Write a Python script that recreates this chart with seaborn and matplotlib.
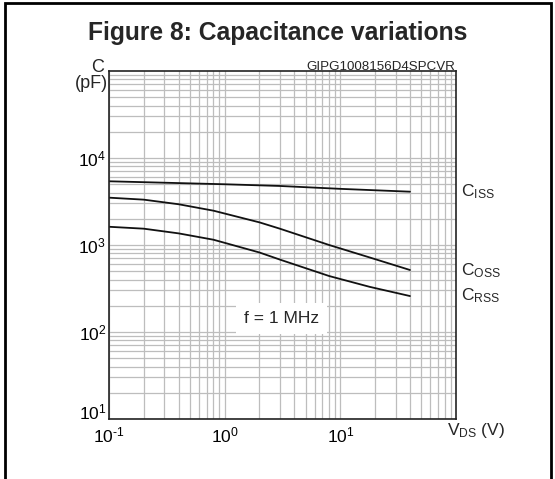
import matplotlib
matplotlib.use("Agg")
import matplotlib.pyplot as plt
import matplotlib.ticker as mticker
import matplotlib.transforms as mtrans
from matplotlib.patches import Rectangle
import numpy as np
import pandas as pd
import seaborn as sns

# ---- data ----
vds_iss = [0.1, 0.3, 1.0, 3.0, 10.0, 40.0]
ciss = [5400, 5200, 4990, 4770, 4420, 4100]
vds_oss = [0.1, 0.2, 0.4, 0.8, 2.0, 3.0, 8.0, 18.0, 40.0]
coss = [3500, 3320, 2940, 2480, 1820, 1540, 1000, 718, 516]
vds_rss = [0.1, 0.2, 0.4, 0.8, 2.0, 3.0, 8.0, 18.0, 40.0]
crss = [1620, 1540, 1360, 1150, 820, 680, 440, 330, 259]
series_names = ["Ciss", "Coss", "Crss"]
series_labels = [r"C$_{\rm ISS}$", r"C$_{\rm OSS}$", r"C$_{\rm RSS}$"]
label_values = [4150, 510, 262]

title = "Figure 8: Capacitance variations"
code_text = "GIPG1008156D4SPCVR"
freq_text = "f = 1 MHz"
x_tick_vals = [0.1, 1, 10]
x_tick_labels = [r"$10^{\text{-}1}$", r"$10^{0}$", r"$10^{1}$"]
y_tick_vals = [10, 100, 1000, 10000]
y_tick_labels = [r"$10^{1}$", r"$10^{2}$", r"$10^{3}$", r"$10^{4}$"]

df = pd.DataFrame({
    "V": vds_iss + vds_oss + vds_rss,
    "C": ciss + coss + crss,
    "s": ["Ciss"] * len(vds_iss) + ["Coss"] * len(vds_oss) + ["Crss"] * len(vds_rss),
})

sns.set_theme(style="white")
plt.rcParams["font.family"] = ["Liberation Sans", "DejaVu Sans"]
plt.rcParams["mathtext.fontset"] = "custom"
plt.rcParams["mathtext.rm"] = "Liberation Sans"
plt.rcParams["mathtext.it"] = "Liberation Sans"
plt.rcParams["mathtext.bf"] = "Liberation Sans:bold"

fig = plt.figure(figsize=(5.55, 4.79), dpi=100)
ax = fig.add_axes([109 / 555, 1 - 419 / 479, (456 - 109) / 555, (419 - 71) / 479])

sns.lineplot(data=df, x="V", y="C", hue="s", hue_order=series_names,
             palette=["#111111"] * 3, legend=False, ax=ax, linewidth=1.3,
             sort=True, estimator=None)

ax.set_xscale("log")
ax.set_yscale("log")
ax.xaxis.set_minor_locator(mticker.LogLocator(base=10, subs=np.arange(2, 10), numticks=20))
ax.yaxis.set_minor_locator(mticker.LogLocator(base=10, subs=np.arange(2, 10), numticks=20))
ax.xaxis.set_minor_formatter(mticker.NullFormatter())
ax.yaxis.set_minor_formatter(mticker.NullFormatter())
ax.set_xticks(x_tick_vals)
ax.set_xticklabels(x_tick_labels)
ax.set_yticks(y_tick_vals)
ax.set_yticklabels(y_tick_labels)
ax.set_xlim(0.1, 100)
ax.set_ylim(10, 1e5)
ax.grid(True, which="both", color="#bdbdbd", linewidth=0.9)
ax.set_axisbelow(True)
ax.tick_params(which="both", length=0, labelsize=12.5, colors="black")
ax.tick_params(axis="x", pad=5)
ax.tick_params(axis="y", pad=2)
ax.set_xlabel("")
ax.set_ylabel("")
for side in ["left", "bottom", "right", "top"]:
    ax.spines[side].set_visible(True)
    ax.spines[side].set_color("#222222")
    ax.spines[side].set_linewidth(1.2)

# lift the lowest y tick label like the reference
lab0 = ax.get_yticklabels()[0]
lab0.set_transform(lab0.get_transform() + mtrans.ScaledTranslation(0, 8 / 100, fig.dpi_scale_trans))

for lab, yv in zip(series_labels, label_values):
    ax.text(1.015, yv, lab, transform=ax.get_yaxis_transform(),
            fontsize=12.5, va="center", ha="left")

ax.text(3.1, 142, freq_text, fontsize=12.5, ha="center", va="center",
        bbox=dict(boxstyle="square,pad=0.45", facecolor="white", edgecolor="none"))

fig.text(447 / 555, 1 - 431 / 479, r"V$_{\rm DS}$ (V)", fontsize=12.5,
         ha="left", va="center")
fig.text(103.5 / 555, 1 - 67 / 479, "C", fontsize=13, ha="right", va="center")
fig.text(108 / 555, 1 - 83 / 479, "(pF)", fontsize=13, ha="right", va="center")
fig.text(455 / 555, 1 - 69.5 / 479, code_text, fontsize=9.6, ha="right", va="baseline")
fig.text(278 / 555, 1 - 33 / 479, title, fontsize=17.7, fontweight="bold",
         ha="center", va="center")

fig.patches.append(Rectangle((5 / 555, -0.05), (551 - 5) / 555, 1.05 - 3 / 479,
                             transform=fig.transFigure, fill=False,
                             edgecolor="black", linewidth=2))

fig.savefig("out.png", dpi=100)
